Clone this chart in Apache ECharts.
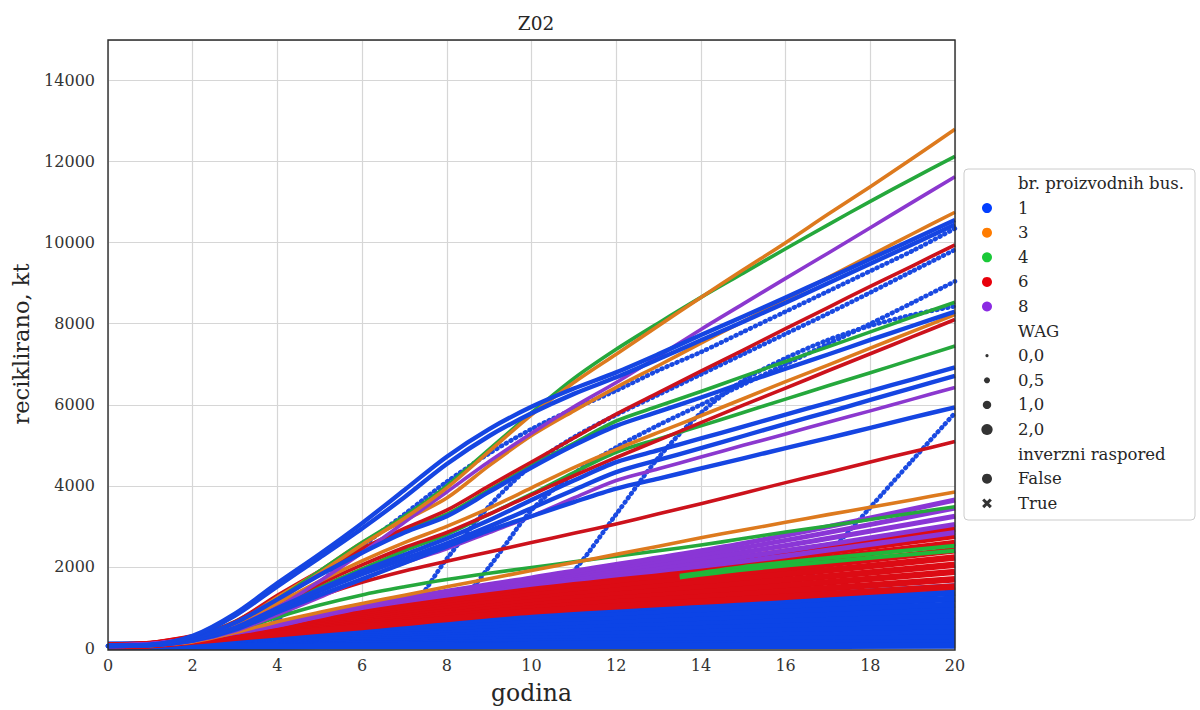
<!DOCTYPE html>
<html><head><meta charset="utf-8">
<script src="https://cdn.jsdelivr.net/npm/echarts@6/dist/echarts.min.js"></script>
<style>html,body{margin:0;padding:0;background:#fff}#c{width:1200px;height:710px}</style>
</head><body><div id="c"></div><script>
// ---------- data ----------
const years = [0,1,2,3,4,5,6,7,8,9,10,11,12,13,14,15,16,17,18,19,20];
const bandYears = [0,1,2,3,4,6,10,15,20];
const greenTailYears = [13.5,15,17,20];

const busCategories = ['1','3','4','6','8'];
const wagLevels = ['0,0','0,5','1,0','2,0'];
const inverseLevels = ['False','True'];
const legendTitles = ['br. proizvodnih bus.','WAG','inverzni raspored'];
const chartTitle = 'Z02';
const xName = 'godina';
const yName = 'reciklirano, kt';

// dense bottom band, bus = 1 (values at bandYears)
const blueBand1  = [80, 90, 150, 240, 330, 520, 880, 1200, 1515];
const blueBand2  = [75, 85, 135, 215, 295, 465, 790, 1080, 1365];
const blueBand3  = [70, 80, 120, 190, 260, 410, 700, 960, 1215];
const blueBand4  = [65, 75, 108, 168, 230, 360, 615, 845, 1070];
const blueBand5  = [60, 70, 97, 148, 200, 312, 530, 730, 925];
const blueBand6  = [55, 65, 87, 128, 172, 265, 450, 620, 785];
const blueBand7  = [52, 60, 77, 108, 145, 220, 370, 510, 645];
const blueBand8  = [50, 55, 67, 90, 118, 177, 295, 405, 510];
const blueBand9  = [47, 50, 58, 73, 92, 135, 222, 300, 380];
const blueBand10 = [45, 46, 50, 58, 68, 96, 153, 205, 255];
const blueBand11 = [42, 43, 44, 46, 50, 62, 90, 115, 140];
const blueBand12 = [40, 40, 40, 40, 40, 42, 48, 55, 60];

// dense band, bus = 6 (values at bandYears)
const redBand1 = [60, 100, 260, 420, 560, 880, 1530, 2230, 2950];
const redBand2 = [59, 96, 248, 399, 533, 833, 1450, 2100, 2771];
const redBand3 = [58, 92, 235, 378, 505, 787, 1370, 1970, 2593];
const redBand4 = [56, 89, 223, 356, 478, 741, 1290, 1840, 2414];
const redBand5 = [55, 85, 210, 335, 450, 695, 1210, 1710, 2235];
const redBand6 = [54, 81, 198, 314, 423, 649, 1130, 1580, 2056];
const redBand7 = [53, 78, 185, 293, 395, 603, 1050, 1450, 1878];
const redBand8 = [51, 74, 173, 271, 368, 557, 975, 1325, 1699];
const redBand9 = [50, 70, 160, 250, 340, 520, 900, 1200, 1520];

// dense band, bus = 8 (values at bandYears)
const purpleBand1 = [60, 90, 230, 420, 600, 1060, 1730, 2580, 3650];
const purpleBand2 = [59, 88, 225, 410, 590, 1045, 1690, 2470, 3450];
const purpleBand3 = [58, 86, 220, 400, 580, 1030, 1650, 2360, 3250];
const purpleBand4 = [57, 84, 215, 390, 570, 1015, 1610, 2250, 3050];
const purpleBand5 = [56, 82, 210, 380, 560, 1000, 1570, 2140, 2850];

// bus = 4 strip visible inside the band (values at greenTailYears)
const greenTail1 = [1780, 2000, 2220, 2520];
const greenTail2 = [1740, 1930, 2130, 2400];

// delayed steep curves, bus = 1, WAG 0,0 (values at years)
const dotted1 = [50,50,55,150,700,1600,2500,3300,4100,4800,5400,5900,6350,6850,7300,7800,8300,8800,9300,9800,10350];
const dotted2 = [50,50,55,60,80,150,350,800,2200,3500,4500,5200,5750,6250,6750,7250,7750,8250,8770,9300,9825];
const dotted3 = [50,50,55,60,70,100,200,400,800,2000,3400,4300,4950,5500,6000,6500,7000,7500,8000,8520,9046];
const dotted4 = [50,50,50,55,60,70,100,150,250,500,900,1900,3300,4700,5800,6600,7150,7600,7950,8220,8432];
const dotted5 = [50,50,50,50,55,60,70,90,110,140,180,230,290,360,450,600,1100,2300,3470,4640,5800];

// individual upper curves (values at years)
const orange1 = [50,60,250,600,1150,1850,2550,3200,3950,4850,5750,6550,7250,7950,8650,9330,10000,10700,11380,12080,12800];
const green1  = [50,60,260,620,1200,1900,2600,3250,4000,4900,5800,6650,7370,8020,8650,9250,9850,10440,11020,11580,12130];
const purple1 = [50,60,220,550,1000,1650,2350,3100,3850,4600,5300,5950,6550,7200,7860,8490,9120,9740,10370,11000,11625];
const orange2 = [50,60,250,600,1250,1900,2600,3150,3700,4500,5240,5850,6430,6970,7520,8060,8600,9140,9680,10220,10750];
const red1    = [50,80,280,650,1300,1900,2450,2950,3400,4000,4590,5180,5770,6300,6830,7350,7880,8400,8920,9430,9947];
const green2  = [50,70,250,650,1250,1850,2400,2900,3300,3900,4500,5050,5600,5970,6330,6700,7070,7430,7800,8170,8530];
const orange3 = [50,70,220,560,1100,1650,2150,2600,3000,3450,3950,4450,4900,5320,5730,6150,6570,6980,7400,7810,8228];
const red2    = [50,70,210,540,1050,1580,2050,2480,2850,3300,3780,4250,4700,5130,5560,5990,6410,6840,7260,7680,8105];
const green3  = [50,70,200,520,1000,1500,1950,2400,2800,3300,3800,4330,4830,5160,5480,5810,6140,6470,6790,7120,7450];
const purple3 = [50,70,170,420,820,1250,1700,2100,2450,2850,3250,3700,4134,4420,4710,5000,5280,5570,5850,6140,6427];
const red3    = [50,70,200,520,900,1280,1620,1900,2140,2370,2600,2830,3060,3310,3560,3820,4080,4330,4590,4840,5092];
const orange4 = [50,70,150,380,650,880,1100,1300,1510,1710,1910,2110,2310,2510,2720,2910,3100,3290,3470,3660,3848];
const green4  = [50,70,180,420,760,1060,1310,1510,1690,1845,1985,2125,2265,2400,2540,2700,2860,3010,3170,3330,3487];
const blueArc1 = [60,80,300,850,1600,2320,3080,3900,4720,5400,5950,6400,6800,7250,7720,8180,8650,9120,9600,10080,10560];
const blueArc2 = [60,80,280,800,1520,2230,2950,3720,4540,5230,5790,6270,6680,7130,7590,8050,8520,9000,9480,9960,10450];
const blue5 = [50,70,240,620,1200,1800,2350,2850,3250,3850,4450,5000,5480,5830,6180,6540,6890,7240,7600,7950,8300];
const blue6 = [50,70,200,500,980,1450,1900,2300,2700,3150,3650,4130,4584,4880,5170,5460,5760,6050,6340,6630,6926];
const blue7 = [50,70,190,480,940,1400,1820,2200,2580,3000,3450,3900,4339,4640,4930,5230,5530,5820,6120,6420,6713];
const blue8 = [50,70,180,450,880,1300,1700,2100,2500,2900,3250,3600,3930,4180,4430,4680,4930,5180,5430,5690,5936];

// ---------- styles ----------
const paletteLegend = ['#023eff','#ff7c00','#1ac938','#e8000b','#8b2be2'];
const ST = {
  blueBand:   {color:'#0c44e6', width:6.5},
  redBand:    {color:'#dc0b14', width:6.5},
  purpleBand: {color:'#8a36d6', width:5},
  greenBand:  {color:'#1fb83a', width:4},
  dotted:     {color:'#1a4ae2', width:4.6, type:[0.8,4.6], cap:'round'},
  blue:       {color:'#1545e2', width:4.4},
  orange:     {color:'#dd7a1e', width:3.6},
  green:      {color:'#25a83c', width:3.6},
  red:        {color:'#cc121c', width:3.6},
  purple:     {color:'#8b38cf', width:3.6}
};
const FONT = 'DejaVu Serif';

function mk(name, xs, vals, st) {
  return {
    type:'line', name, data: xs.map((x,i)=>[x, vals[i]]),
    symbol:'none', smooth:0.3, silent:true, animation:false,
    lineStyle:{color:st.color, width:st.width, type:st.type||'solid', cap:st.cap||'butt', join:'round'}
  };
}

const series = [];
[dotted1,dotted2,dotted3,dotted4,dotted5].forEach((v,i)=>series.push(mk('d'+i, years, v, ST.dotted)));
[blueBand1,blueBand2,blueBand3,blueBand4,blueBand5,blueBand6,blueBand7,blueBand8,blueBand9,blueBand10,blueBand11,blueBand12]
  .forEach((v,i)=>series.push(mk('bb'+i, bandYears, v, ST.blueBand)));
[redBand1,redBand2,redBand3,redBand4,redBand5,redBand6,redBand7,redBand8,redBand9]
  .forEach((v,i)=>series.push(mk('rb'+i, bandYears, v, ST.redBand)));
[greenTail1,greenTail2].forEach((v,i)=>series.push(mk('gb'+i, greenTailYears, v, ST.greenBand)));
[purpleBand5,purpleBand4,purpleBand3,purpleBand2,purpleBand1]
  .forEach((v,i)=>series.push(mk('pb'+i, bandYears, v, ST.purpleBand)));
[[green4,'green'],[orange4,'orange'],[red3,'red'],[purple3,'purple'],[green3,'green'],[red2,'red'],[orange3,'orange'],
 [green2,'green'],[red1,'red'],[orange2,'orange'],[purple1,'purple'],[green1,'green'],[orange1,'orange']]
  .forEach((p,i)=>series.push(mk('u'+i, years, p[0], ST[p[1]])));
[blue8,blue7,blue6,blue5,blueArc2,blueArc1].forEach((v,i)=>series.push(mk('b'+i, years, v, ST.blue)));

// ---------- legend (graphic) ----------
const LX = 964, LY = 169, LW = 231, LH = 351;
const rowY = i => 183.5 + i*24.6;
const g = [];
g.push({type:'rect', shape:{x:LX,y:LY,width:LW,height:LH,r:4}, style:{fill:'rgba(255,255,255,0.85)', stroke:'#cccccc', lineWidth:1}, z:100});
const rows = [];
rows.push({t:legendTitles[0]});
busCategories.forEach((c,i)=>rows.push({t:c, m:'c', r:5, col:paletteLegend[i]}));
rows.push({t:legendTitles[1]});
[1.6,3,4.2,5.6].forEach((r,i)=>rows.push({t:wagLevels[i], m:'c', r, col:'#333'}));
rows.push({t:legendTitles[2]});
rows.push({t:inverseLevels[0], m:'c', r:5, col:'#333'});
rows.push({t:inverseLevels[1], m:'x'});
rows.forEach((row,i)=>{
  const y = rowY(i);
  g.push({type:'text', x:1018, y, style:{text:row.t, fill:'#262626', fontFamily:FONT, fontSize:16.5, align:'left', verticalAlign:'middle'}, z:101});
  if (row.m==='c') g.push({type:'circle', shape:{cx:987, cy:y, r:row.r}, style:{fill:row.col}, z:101});
  if (row.m==='x') {
    g.push({type:'line', shape:{x1:983.2,y1:y-3.8,x2:990.8,y2:y+3.8}, style:{stroke:'#333', lineWidth:3}, z:101});
    g.push({type:'line', shape:{x1:983.2,y1:y+3.8,x2:990.8,y2:y-3.8}, style:{stroke:'#333', lineWidth:3}, z:101});
  }
});
// plot frame
g.push({type:'rect', shape:{x:108,y:40,width:847,height:610}, style:{fill:'none', stroke:'#2b2b2b', lineWidth:1.4}, z:100});

const chart = echarts.init(document.getElementById('c'), null, {renderer:'svg'});
chart.setOption({
  backgroundColor:'#ffffff',
  animation:false,
  title:{text:chartTitle, left:531, top:9, textAlign:'center', textStyle:{fontFamily:FONT, fontSize:18.5, fontWeight:'normal', color:'#262626'}},
  grid:{left:108, right:245, top:40, bottom:60, show:false},
  xAxis:{type:'value', min:0, max:20, interval:2,
    name:xName, nameLocation:'middle', nameGap:33, nameTextStyle:{fontFamily:FONT, fontSize:23.5, color:'#262626'},
    axisLine:{show:false}, axisTick:{show:false},
    axisLabel:{fontFamily:FONT, fontSize:16, color:'#333', margin:9},
    splitLine:{show:true, lineStyle:{color:'#d6d6d6', width:1.2}}},
  yAxis:{type:'value', min:0, max:15000, interval:2000,
    name:yName, nameLocation:'middle', nameGap:76, nameTextStyle:{fontFamily:FONT, fontSize:22.5, color:'#262626'},
    axisLine:{show:false}, axisTick:{show:false},
    axisLabel:{fontFamily:FONT, fontSize:16, color:'#333', margin:13, formatter:v=> v>14000 ? '' : String(v)},
    splitLine:{show:true, lineStyle:{color:'#d6d6d6', width:1.2}}},
  series,
  graphic:g
});
</script></body></html>
